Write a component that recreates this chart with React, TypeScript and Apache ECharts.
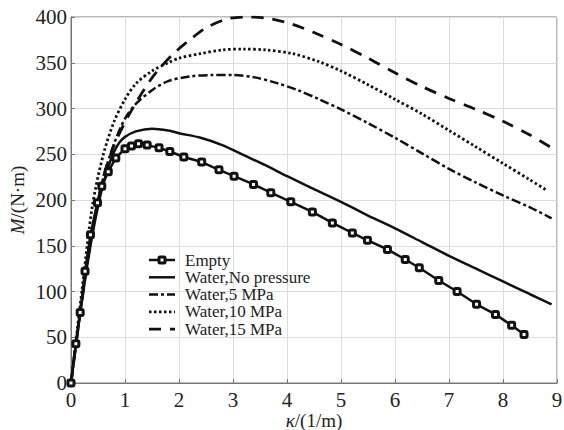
import React, { useEffect, useRef } from "react";
import * as echarts from "echarts";

const seriesNames = ["Empty", "Water,No pressure", "Water,5 MPa", "Water,10 MPa", "Water,15 MPa"];

const emptyData: [number, number][] = [
  [0, 0], [0.09, 43], [0.17, 77], [0.26, 122], [0.36, 162], [0.49, 197], [0.57, 215], [0.69, 231],
  [0.83, 246], [1.0, 256], [1.12, 259], [1.25, 261.5], [1.41, 260], [1.63, 257], [1.83, 253],
  [2.09, 247], [2.42, 241.5], [2.74, 233], [3.02, 226], [3.38, 217], [3.7, 208], [4.07, 198],
  [4.47, 187], [4.84, 175], [5.21, 164], [5.49, 156], [5.86, 146], [6.19, 135], [6.45, 126],
  [6.81, 112], [7.15, 100], [7.51, 86], [7.86, 75], [8.16, 63], [8.39, 53],
];

const noPressureData: [number, number][] = [
  [0, 0], [0.1, 45], [0.2, 88], [0.3, 128], [0.4, 163], [0.5, 193], [0.6, 218], [0.7, 238],
  [0.8, 253], [0.9, 263], [1.0, 269], [1.2, 275], [1.5, 278], [1.8, 276], [2.0, 273], [2.4, 268],
  [2.8, 260], [3.2, 249], [3.6, 238], [4.0, 226], [4.5, 212], [5.0, 198], [5.5, 183], [6.0, 169],
  [6.5, 154], [7.0, 139], [7.5, 125], [8.0, 111], [8.5, 97], [8.9, 86],
];

const mpa5Data: [number, number][] = [
  [0, 0], [0.2, 92], [0.4, 170], [0.6, 225], [0.8, 262], [1.0, 289], [1.2, 305], [1.5, 320],
  [1.8, 330], [2.2, 335], [2.6, 336.5], [3.0, 336.5], [3.4, 334], [3.8, 328], [4.2, 320],
  [4.6, 310], [5.0, 299], [5.5, 284], [6.0, 268], [6.5, 251], [7.0, 234], [7.5, 219], [8.0, 205],
  [8.5, 192], [8.9, 180],
];

const mpa10Data: [number, number][] = [
  [0, 0], [0.2, 100], [0.4, 195], [0.6, 250], [0.8, 286], [1.0, 310], [1.2, 327], [1.5, 341],
  [1.8, 350], [2.0, 355], [2.4, 360], [2.8, 364], [3.2, 365], [3.6, 364], [4.1, 360], [4.6, 351],
  [5.0, 341], [5.5, 326], [6.0, 310], [6.5, 294], [7.0, 276], [7.5, 258], [8.0, 240], [8.5, 222],
  [8.8, 211],
];

const mpa15Data: [number, number][] = [
  [0, 0], [0.2, 90], [0.4, 168], [0.6, 225], [0.8, 260], [1.0, 285], [1.2, 306], [1.4, 325],
  [1.6, 341], [1.9, 360], [2.2, 375], [2.5, 388], [2.9, 398], [3.3, 400], [3.7, 398], [4.1, 392],
  [4.5, 383], [5.0, 370], [5.5, 355], [6.0, 339], [6.5, 324], [7.0, 311], [7.5, 299], [8.0, 286],
  [8.5, 271], [8.9, 257],
];

const FONT = "Liberation Serif, Times New Roman, serif";

const lineDashes: (number[] | null)[] = [null, null, [9, 3, 3, 3], [2.5, 2.5], [12, 9]];

export default function App() {
  const ref = useRef<HTMLDivElement>(null);
  useEffect(() => {
    if (!ref.current) return;
    const chart = echarts.init(ref.current, undefined, { renderer: "svg" });
    const lineBase = { type: "line" as const, showSymbol: false, symbol: "none", smooth: 0.3 };

    const legendX = 149;
    const legendTop = 260;
    const legendStep = 17.3;
    const legendGraphics: any[] = [];
    seriesNames.forEach((name, i) => {
      const y = legendTop + i * legendStep;
      legendGraphics.push({
        type: "line",
        shape: { x1: legendX, y1: y, x2: legendX + 26, y2: y },
        style: {
          stroke: "#111",
          lineWidth: i >= 3 ? 2.8 : 2.5,
          lineDash: lineDashes[i] || undefined,
        },
        z: 10,
      });
      if (i === 0) {
        legendGraphics.push({
          type: "rect",
          shape: { x: legendX + 13 - 3, y: y - 3, width: 6, height: 6, r: 1 },
          style: { fill: "#fff", stroke: "#111", lineWidth: 3 },
          z: 11,
        });
      }
      legendGraphics.push({
        type: "text",
        x: 185,
        y,
        style: {
          text: name,
          fontFamily: FONT,
          fontSize: 17,
          fill: "#222",
          verticalAlign: "middle",
          align: "left",
        },
        z: 10,
      });
    });

    const nameStyle = {
      fontFamily: FONT, fontSize: 19, color: "#222",
      rich: { i: { fontStyle: "italic", fontFamily: FONT, fontSize: 19, color: "#222" } },
    };

    chart.setOption({
      animation: false,
      backgroundColor: "#fff",
      grid: {
        left: 71, right: 7, top: 17, bottom: 47,
        show: true, borderColor: "#777", borderWidth: 1, backgroundColor: "transparent",
        outerBoundsMode: "none", containLabel: false,
      },
      graphic: legendGraphics,
      xAxis: {
        type: "value",
        min: 0,
        max: 9,
        interval: 1,
        name: "{i|κ}/(1/m)",
        nameLocation: "middle",
        nameGap: 28,
        nameMoveOverlap: false,
        nameTextStyle: nameStyle,
        axisLine: { show: true, lineStyle: { color: "#777", width: 1 } },
        axisTick: { show: true, inside: true, length: 4, lineStyle: { color: "#777" } },
        axisLabel: { fontFamily: FONT, fontSize: 21, color: "#222", margin: 6 },
        splitLine: { show: true, lineStyle: { color: "#dcdcdc", width: 1 } },
      },
      yAxis: {
        type: "value",
        min: 0,
        max: 400,
        interval: 50,
        name: "{i|M}/(N·m)",
        nameLocation: "middle",
        nameRotate: 90,
        nameGap: 44,
        nameMoveOverlap: false,
        nameTextStyle: nameStyle,
        axisLine: { show: true, lineStyle: { color: "#777", width: 1 } },
        axisTick: { show: true, inside: true, length: 4, lineStyle: { color: "#777" } },
        axisLabel: { fontFamily: FONT, fontSize: 21, color: "#222", margin: 4 },
        splitLine: { show: true, lineStyle: { color: "#dcdcdc", width: 1 } },
      },
      series: [
        {
          name: seriesNames[0],
          type: "line",
          data: emptyData,
          symbol: "roundRect",
          symbolSize: 6,
          showSymbol: true,
          lineStyle: { color: "#111", width: 2.5 },
          itemStyle: { color: "#fff", borderColor: "#111", borderWidth: 3 },
          z: 5,
        },
        {
          ...lineBase,
          name: seriesNames[1],
          data: noPressureData,
          lineStyle: { color: "#111", width: 2.5, type: "solid" },
        },
        {
          ...lineBase,
          name: seriesNames[2],
          data: mpa5Data,
          lineStyle: { color: "#111", width: 2.5, type: lineDashes[2] },
        },
        {
          ...lineBase,
          name: seriesNames[3],
          data: mpa10Data,
          lineStyle: { color: "#111", width: 2.8, type: lineDashes[3] },
        },
        {
          ...lineBase,
          name: seriesNames[4],
          data: mpa15Data,
          lineStyle: { color: "#111", width: 2.8, type: lineDashes[4] },
        },
      ],
    });
    return () => chart.dispose();
  }, []);
  return <div ref={ref} style={{ width: 564, height: 430, position: "absolute", left: 0, top: 0 }} />;
}
